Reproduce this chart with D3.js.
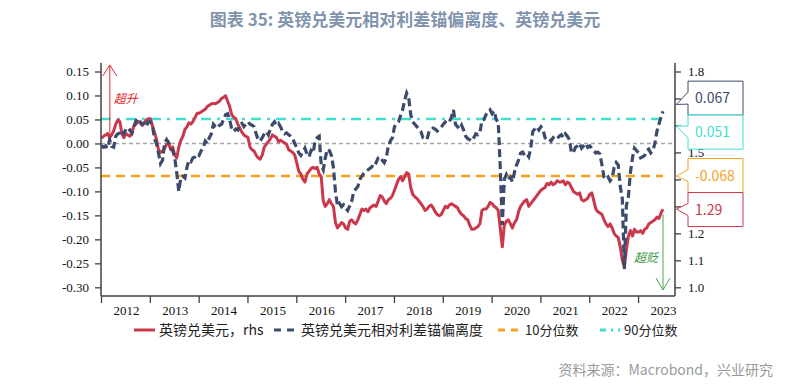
<!DOCTYPE html>
<html lang="zh">
<head>
<meta charset="utf-8">
<title>英镑兑美元相对利差锚偏离度</title>
<script src="https://d3js.org/d3.v7.min.js"></script>
<style>
  body { margin: 0; background: #fff; }
  svg text { font-family: "Noto Sans CJK SC", "Noto Sans", sans-serif; }
  .tick text { font-family: "Liberation Serif", serif !important; font-size: 13px; fill: #111; }
</style>
</head>
<body>
<script>
'use strict';

// --- data (semi-monthly, from Jan 2012) ---
var years = ["2012","2013","2014","2015","2016","2017","2018","2019","2020","2021","2022","2023"];
var leftTicks = [0.15, 0.10, 0.05, 0.00, -0.05, -0.10, -0.15, -0.20, -0.25, -0.30];
var rightTicks = [1.8, 1.7, 1.6, 1.5, 1.4, 1.3, 1.2, 1.1, 1.0];
var startYear = 2012, stepsPerYear = 24;

var gbpusd = [
  1.553,1.560,1.565,1.570,1.555,1.565,1.580,1.605,1.620,1.615,1.570,1.555,1.570,1.565,1.560,1.575,1.600,1.605,1.615,1.610,1.600,1.610,1.620,1.625,
  1.625,1.600,1.575,1.550,1.510,1.500,1.505,1.515,1.530,1.535,1.510,1.520,1.490,1.480,1.520,1.545,1.560,1.585,1.595,1.610,1.605,1.615,1.630,1.645,
  1.645,1.650,1.655,1.660,1.670,1.675,1.680,1.682,1.680,1.685,1.690,1.700,1.705,1.710,1.690,1.670,1.640,1.630,1.625,1.605,1.590,1.575,1.565,1.560,
  1.555,1.520,1.510,1.505,1.490,1.480,1.475,1.490,1.520,1.530,1.540,1.550,1.565,1.560,1.555,1.540,1.545,1.540,1.535,1.530,1.510,1.505,1.500,1.490,
  1.460,1.430,1.420,1.400,1.390,1.420,1.430,1.440,1.445,1.440,1.445,1.420,1.410,1.320,1.300,1.310,1.325,1.310,1.300,1.240,1.220,1.230,1.240,1.235,
  1.220,1.215,1.245,1.250,1.240,1.235,1.250,1.270,1.290,1.285,1.290,1.280,1.295,1.300,1.305,1.300,1.320,1.340,1.335,1.320,1.310,1.325,1.330,1.340,
  1.360,1.380,1.400,1.410,1.395,1.410,1.425,1.420,1.370,1.345,1.335,1.330,1.320,1.310,1.300,1.285,1.290,1.300,1.305,1.295,1.280,1.270,1.265,1.270,
  1.285,1.300,1.295,1.305,1.310,1.305,1.300,1.295,1.280,1.270,1.265,1.255,1.250,1.230,1.215,1.215,1.220,1.225,1.235,1.285,1.290,1.290,1.300,1.315,
  1.310,1.300,1.295,1.285,1.220,1.150,1.230,1.245,1.250,1.235,1.220,1.240,1.250,1.280,1.300,1.310,1.320,1.325,1.300,1.310,1.320,1.330,1.340,1.350,
  1.360,1.365,1.370,1.385,1.380,1.390,1.380,1.385,1.395,1.390,1.390,1.395,1.380,1.390,1.385,1.370,1.355,1.350,1.345,1.350,1.325,1.320,1.325,1.330,
  1.345,1.350,1.320,1.290,1.280,1.275,1.270,1.250,1.235,1.225,1.235,1.220,1.200,1.190,1.185,1.150,1.100,1.075,1.140,1.190,1.210,1.190,1.215,1.205,
  1.205,1.210,1.200,1.215,1.220,1.235,1.240,1.245,1.250,1.260,1.255,1.275,1.290
];

var spreadDev = [
  -0.004,-0.008,-0.005,-0.010,0.008,-0.006,-0.008,0.015,0.020,0.022,0.028,0.020,0.030,0.025,0.028,0.022,0.035,0.048,0.052,0.045,0.040,0.042,0.035,0.045,
  0.045,0.040,0.010,0.000,-0.020,-0.042,-0.035,0.000,0.008,0.002,-0.008,-0.015,-0.030,-0.062,-0.100,-0.070,-0.068,-0.072,-0.050,-0.035,-0.038,-0.030,-0.028,-0.022,
  -0.025,-0.015,-0.010,0.005,0.000,0.012,0.020,0.040,0.035,0.032,0.038,0.040,0.050,0.060,0.062,0.050,0.030,0.025,0.030,0.028,0.040,0.042,0.035,0.040,
  0.045,0.040,0.038,0.035,0.020,0.008,0.005,0.012,0.020,0.025,0.018,0.030,0.040,0.045,0.038,0.042,0.035,0.025,0.020,0.022,0.018,0.015,0.010,0.000,
  -0.010,-0.020,-0.025,-0.018,-0.010,-0.022,-0.028,-0.015,-0.020,0.005,0.012,0.015,-0.045,-0.055,-0.030,-0.012,-0.015,-0.025,-0.050,-0.100,-0.130,-0.125,-0.132,-0.128,
  -0.135,-0.140,-0.130,-0.120,-0.100,-0.095,-0.090,-0.075,-0.068,-0.062,-0.058,-0.055,-0.052,-0.048,-0.050,-0.040,-0.030,-0.028,-0.035,-0.040,-0.030,-0.005,0.005,0.012,
  0.035,0.040,0.045,0.058,0.070,0.090,0.105,0.095,0.060,0.045,0.040,0.035,0.030,0.025,0.012,0.010,0.008,0.025,0.028,0.032,0.030,0.026,0.030,0.034,
  0.040,0.045,0.048,0.045,0.055,0.070,0.040,0.035,0.030,0.038,0.028,0.015,0.010,0.008,0.005,0.012,0.020,0.018,0.022,0.048,0.050,0.060,0.065,0.070,
  0.062,0.068,0.050,0.045,-0.050,-0.170,-0.075,-0.065,-0.075,-0.070,-0.080,-0.060,-0.045,-0.035,-0.020,-0.018,-0.025,-0.022,-0.028,-0.010,0.025,0.030,0.035,0.028,
  0.035,0.030,0.012,0.008,0.010,0.005,0.012,0.008,0.010,0.015,0.018,0.012,0.020,0.015,0.008,-0.020,-0.018,-0.008,-0.005,0.000,-0.010,-0.005,0.000,-0.008,
  -0.005,-0.010,-0.015,-0.020,-0.018,-0.022,-0.045,-0.070,-0.075,-0.070,-0.078,-0.072,-0.050,-0.040,-0.045,-0.090,-0.115,-0.262,-0.130,-0.110,-0.060,-0.030,-0.010,-0.015,
  -0.020,-0.030,-0.028,-0.025,-0.015,-0.012,-0.020,-0.015,0.000,0.025,0.040,0.055,0.067
];

var p10 = -0.068;   // 10分位数
var p90 = 0.051;    // 90分位数

var red = "#c9384b", navy = "#3c4b6c", orange = "#f5a21e", cyan = "#3fdfd2";

// --- layout ---
var w = 807, h = 389;
var pLeft = 101, pRight = 675, pTop = 63, pBottom = 296;

var dates = gbpusd.map(function(d, i){ return startYear + i / stepsPerYear; });
var tEnd = dates[dates.length - 1];

var x = d3.scaleLinear().domain([startYear, tEnd]).range([101.5, 663]);
var yL = d3.scaleLinear().domain([0.15, -0.30]).range([71.5, 287.3]);
var yR = d3.scaleLinear().domain([1.8, 1.0]).range([71.5, 287.3]);

var svg = d3.select("body").append("svg")
    .attr("width", w)
    .attr("height", h);

// title
svg.append("text")
    .attr("x", 405).attr("y", 26)
    .attr("text-anchor", "middle")
    .attr("font-size", "17px")
    .attr("font-weight", "bold")
    .attr("fill", "#8194ae")
    .text("图表 35: 英镑兑美元相对利差锚偏离度、英镑兑美元");

// clip
svg.append("clipPath").attr("id", "plot")
    .append("rect")
    .attr("x", pLeft).attr("y", pTop)
    .attr("width", pRight - pLeft).attr("height", pBottom - pTop);

// reference lines
svg.append("line")
    .attr("x1", pLeft).attr("x2", pRight)
    .attr("y1", yL(0)).attr("y2", yL(0))
    .attr("stroke", "#a8a8a8").attr("stroke-width", 1.5)
    .attr("stroke-dasharray", "4,3");
svg.append("line")
    .attr("x1", pLeft).attr("x2", x(tEnd))
    .attr("y1", yL(p90)).attr("y2", yL(p90))
    .attr("stroke", cyan).attr("stroke-width", 2.5)
    .attr("stroke-dasharray", "10,6,3,6");
svg.append("line")
    .attr("x1", pLeft).attr("x2", x(tEnd))
    .attr("y1", yL(p10)).attr("y2", yL(p10))
    .attr("stroke", orange).attr("stroke-width", 2.5)
    .attr("stroke-dasharray", "9,6");

// series
var lines = svg.append("g").attr("clip-path", "url(#plot)");
lines.append("path")
    .datum(gbpusd)
    .attr("fill", "none")
    .attr("stroke", red)
    .attr("stroke-width", 3)
    .attr("stroke-linejoin", "round")
    .attr("d", d3.line()
        .x(function(d, i){ return x(dates[i]); })
        .y(function(d){ return yR(d); }));
lines.append("path")
    .datum(spreadDev)
    .attr("fill", "none")
    .attr("stroke", navy)
    .attr("stroke-width", 3.2)
    .attr("stroke-dasharray", "8,4")
    .attr("d", d3.line()
        .x(function(d, i){ return x(dates[i]); })
        .y(function(d){ return yL(d); }));

// annotations
var annR = svg.append("g").attr("stroke", "#e8262a").attr("fill", "none").attr("stroke-width", 1);
var ax = x(2012.17);
annR.append("line").attr("x1", ax).attr("x2", ax).attr("y1", yL(0.012)).attr("y2", pTop + 2);
annR.append("polyline").attr("points", [[ax - 7, pTop + 13], [ax, pTop + 2], [ax + 7, pTop + 13]].join(" "));
svg.append("text")
    .attr("x", ax + 4).attr("y", yL(0.085))
    .attr("font-size", "12px").attr("fill", "#e8262a")
    .attr("font-style", "italic")
    .text("超升");

var gx = x(tEnd);
var annG = svg.append("g").attr("stroke", "#4aa84a").attr("fill", "none").attr("stroke-width", 1);
annG.append("line").attr("x1", gx).attr("x2", gx).attr("y1", yR(1.27)).attr("y2", pBottom - 6);
annG.append("polyline").attr("points", [[gx - 7, pBottom - 18], [gx, pBottom - 6], [gx + 7, pBottom - 18]].join(" "));
svg.append("text")
    .attr("x", gx - 5).attr("y", yR(1.095))
    .attr("text-anchor", "end")
    .attr("font-size", "12px").attr("fill", "#3f9a3f")
    .attr("font-style", "italic")
    .text("超贬");

// axes
var gL = svg.append("g").attr("transform", "translate(" + pLeft + ",0)")
    .call(d3.axisLeft(yL).tickValues(leftTicks).tickSize(6).tickPadding(6)
        .tickFormat(function(d){ return d.toFixed(2); }));
var gR = svg.append("g").attr("transform", "translate(" + pRight + ",0)")
    .call(d3.axisRight(yR).tickValues(rightTicks).tickSize(6).tickPadding(7)
        .tickFormat(function(d){ return d.toFixed(1); }));
var gX = svg.append("g").attr("transform", "translate(0," + pBottom + ")")
    .call(d3.axisBottom(x).tickValues(years.map(function(d){ return +d + 0.5; }))
        .tickSize(0).tickPadding(10)
        .tickFormat(function(d){ return String(Math.floor(d)); }));
[gL, gR, gX].forEach(function(g){
    g.select(".domain").remove();
    g.selectAll(".tick line").attr("stroke", "#404040").attr("stroke-width", 1.3);
});
svg.append("g").selectAll("line")
    .data(years)
    .enter().append("line")
    .attr("x1", function(d){ return x(+d); })
    .attr("x2", function(d){ return x(+d); })
    .attr("y1", pBottom).attr("y2", pBottom + 7)
    .attr("stroke", "#404040").attr("stroke-width", 1.3);

var frame = svg.append("g").attr("stroke", "#404040").attr("stroke-width", 1.5);
frame.append("line").attr("x1", pLeft).attr("x2", pLeft).attr("y1", pTop).attr("y2", pBottom);
frame.append("line").attr("x1", pRight).attr("x2", pRight).attr("y1", pTop).attr("y2", pBottom);
frame.append("line").attr("x1", pLeft).attr("x2", pRight).attr("y1", pBottom).attr("y2", pBottom);

// right callouts
function spread(ys, gap){
    var out = ys.slice();
    var order = d3.range(ys.length).sort(function(a, b){ return ys[a] - ys[b]; });
    for (var it = 0; it < 200; it++){
        var moved = false;
        for (var k = 1; k < order.length; k++){
            var a = order[k - 1], b = order[k], d = out[b] - out[a];
            if (d < gap - 0.01){ var s = (gap - d) / 2; out[a] -= s; out[b] += s; moved = true; }
        }
        if (!moved) break;
    }
    return out;
}
var n = gbpusd.length - 1;
var callouts = [
    {label: spreadDev[n].toFixed(3), y: yL(spreadDev[n]), color: navy},
    {label: p90.toFixed(3), y: yL(p90), color: cyan},
    {label: p10.toFixed(3), y: yL(p10), color: orange},
    {label: gbpusd[n].toFixed(2), y: yR(gbpusd[n]), color: red}
];
var tips = spread(callouts.map(function(c){ return c.y; }), 21.4);
var boxH = 34;
var boxes = spread(callouts.map(function(c){ return c.y; }), boxH);
var bx0 = 688, bx1 = 743, tipX = 676.5;

// right tick labels covered by the callout boxes are not shown
gR.selectAll(".tick text").style("display", function(d){
    return boxes.some(function(b){ return Math.abs(yR(d) - b) < boxH / 2; }) ? "none" : null;
});

callouts.forEach(function(c, i){
    var cy = boxes[i], t = boxH / 2;
    var p = "M" + bx0 + "," + (cy - t) + "H" + bx1 + "V" + (cy + t) + "H" + bx0 +
            "V" + (cy + 6) + "L" + tipX + "," + tips[i] + "L" + bx0 + "," + (cy - 6) + "Z";
    svg.append("path").attr("d", p)
        .attr("fill", "#fff").attr("stroke", c.color).attr("stroke-width", 1);
    svg.append("text")
        .attr("x", 695).attr("y", cy)
        .attr("dy", "0.36em")
        .attr("font-family", "'Open Sans', sans-serif")
        .attr("font-size", "14px")
        .attr("fill", c.color)
        .text(c.label);
});

// legend
var legendItems = [
    {label: "英镑兑美元，rhs", color: red, dash: null, x1: 134, x2: 155, size: 14},
    {label: "英镑兑美元相对利差锚偏离度", color: navy, dash: "7,6", x1: 274, x2: 297, size: 14},
    {label: "10分位数", color: orange, dash: "7,6", x1: 498, x2: 521, size: 13},
    {label: "90分位数", color: cyan, dash: "6,5,2,5", x1: 600, x2: 620, size: 13}
];
var ly = 330;
var lg = svg.append("g");
legendItems.forEach(function(it){
    lg.append("line")
        .attr("x1", it.x1).attr("x2", it.x2).attr("y1", ly).attr("y2", ly)
        .attr("stroke", it.color).attr("stroke-width", 3)
        .attr("stroke-dasharray", it.dash);
    lg.append("text")
        .attr("x", it.x2 + 4).attr("y", ly).attr("dy", "0.36em")
        .attr("font-family", "'Liberation Sans', 'Noto Sans CJK SC', sans-serif")
        .attr("font-size", it.size + "px").attr("fill", "#222")
        .text(it.label);
});

// source
svg.append("text")
    .attr("x", 773).attr("y", 375)
    .attr("text-anchor", "end")
    .attr("font-size", "14px")
    .attr("fill", "#9a9a9a")
    .text("资料来源：Macrobond，兴业研究");
</script>
</body>
</html>
